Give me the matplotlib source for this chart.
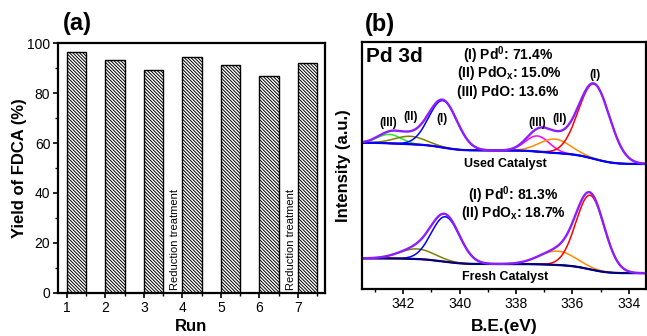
import numpy as np
import matplotlib
matplotlib.use("Agg")
import matplotlib.pyplot as plt
from matplotlib.ticker import MultipleLocator

plt.rcParams["font.family"] = ["Liberation Sans", "DejaVu Sans"]
plt.rcParams["mathtext.fontset"] = "custom"
plt.rcParams["mathtext.rm"] = "Liberation Sans:bold"
plt.rcParams["mathtext.it"] = "Liberation Sans:bold"
plt.rcParams["mathtext.bf"] = "Liberation Sans:bold"
plt.rcParams["hatch.linewidth"] = 0.7

# (a) recycling runs
runs = [1, 2, 3, 4, 5, 6, 7]
yields = [96.3, 93.1, 89.3, 94.4, 91.2, 86.9, 91.9]
treat_x = [3.8, 6.82]

# (b) Pd 3d fits: components listed as 3d3/2 ... 3d5/2
used_center = [342.49, 341.75, 340.59, 337.24, 336.62, 335.23]
used_sigma = [0.42, 0.55, 0.50, 0.42, 0.55, 0.55]
used_height = [3.6, 3.2, 19.0, 6.3, 5.6, 30.3]
used_colors = ["#22EE22", "#808000", "#0000FF", "#FF00FF", "#FF8C00", "#FF0000"]
used_bg = (59.2, 50.6)

fresh_center = [341.51, 340.50, 336.53, 335.37]
fresh_sigma = [0.62, 0.50, 0.65, 0.50]
fresh_height = [4.1, 18.2, 5.6, 30.0]
fresh_colors = ["#808000", "#0000FF", "#FF8C00", "#FF0000"]
fresh_bg = (12.4, 6.4)

ev = np.linspace(333.4, 343.46, 500)


def fit(center, sigma, height, bg_ends):
    comps = [h * np.exp(-(ev - c) ** 2 / (2 * s ** 2)) for c, s, h in zip(center, sigma, height)]
    total = np.sum(comps, axis=0)
    frac = np.cumsum(total) / np.sum(total)
    bg = bg_ends[1] + (bg_ends[0] - bg_ends[1]) * frac
    return bg, comps


fig = plt.figure(figsize=(6.47, 3.36), dpi=100)

ax1 = fig.add_axes([0.0896, 0.128, 0.4127, 0.744])
ax1.bar(runs, yields, width=0.5, align="edge", color="white", edgecolor="black",
        hatch="\\" * 10, linewidth=1.0)
for x in treat_x:
    ax1.text(x, 1.2, "Reduction treatment", rotation=90, ha="center", va="bottom", fontsize=8)
ax1.set_xlim(0.77, 7.7)
ax1.set_ylim(0, 100)
ax1.set_xticks(runs)
ax1.xaxis.set_minor_locator(MultipleLocator(0.5))
ax1.yaxis.set_major_locator(MultipleLocator(20))
ax1.yaxis.set_minor_locator(MultipleLocator(10))
ax1.set_xlabel("Run", fontsize=12, fontweight="bold", labelpad=3.5)
ax1.set_ylabel("Yield of FDCA (%)", fontsize=12, fontweight="bold", labelpad=0)
ax1.tick_params(which="major", length=3.5, width=1.2, labelsize=10, pad=2)
ax1.tick_params(which="minor", length=2, width=1)
for sp in ax1.spines.values():
    sp.set_linewidth(1.6)
fig.text(0.119, 0.929, "(a)", fontsize=17, fontweight="bold", ha="center", va="center")

ax2 = fig.add_axes([0.5595, 0.140, 0.4385, 0.735])
for center, sigma, height, colors, bg_ends, bg_color in [
        (used_center, used_sigma, used_height, used_colors, used_bg, "#0000FF"),
        (fresh_center, fresh_sigma, fresh_height, fresh_colors, fresh_bg, "#000080")]:
    bg, comps = fit(center, sigma, height, bg_ends)
    for comp, col in zip(comps, colors):
        ax2.plot(ev, bg + comp, color=col, lw=1.1)
    ax2.plot(ev, bg, color=bg_color, lw=1.6)
    ax2.plot(ev, bg + np.sum(comps, axis=0), color="#8C1EFF", lw=1.7)

lbl = dict(fontsize=8.5, fontweight="bold", ha="center", va="center")
ax2.text(342.53, 67.2, "(III)", **lbl)
ax2.text(341.72, 69.6, "(II)", **lbl)
ax2.text(340.61, 68.8, "(I)", **lbl)
ax2.text(337.23, 67.2, "(III)", **lbl)
ax2.text(336.45, 68.8, "(II)", **lbl)
ax2.text(335.20, 86.6, "(I)", **lbl)

tx = dict(transform=ax2.transAxes, ha="center", va="center", fontweight="bold")
ax2.text(0.115, 0.941, "Pd 3d", fontsize=15, **tx)
ax2.text(0.515, 0.947, r"(I) Pd$^{0}$: 71.4%", fontsize=10, **tx)
ax2.text(0.518, 0.874, r"(II) PdO$_{x}$: 15.0%", fontsize=10, **tx)
ax2.text(0.515, 0.798, "(III) PdO: 13.6%", fontsize=10, **tx)
ax2.text(0.504, 0.506, "Used Catalyst", fontsize=9, **tx)
ax2.text(0.532, 0.381, r"(I) Pd$^{0}$: 81.3%", fontsize=10, **tx)
ax2.text(0.532, 0.308, r"(II) PdO$_{x}$: 18.7%", fontsize=10, **tx)
ax2.text(0.504, 0.049, "Fresh Catalyst", fontsize=9, **tx)

ax2.set_xlim(343.46, 333.4)
ax2.set_ylim(0, 100)
ax2.xaxis.set_major_locator(MultipleLocator(2))
ax2.xaxis.set_minor_locator(MultipleLocator(1))
ax2.set_yticks([])
ax2.set_xlabel("B.E.(eV)", fontsize=12.5, fontweight="bold", labelpad=6)
ax2.set_ylabel("Intensity (a.u.)", fontsize=12, fontweight="bold", labelpad=8)
ax2.tick_params(which="major", length=3.5, width=1.2, labelsize=10, pad=2)
ax2.tick_params(which="minor", length=2, width=1)
for sp in ax2.spines.values():
    sp.set_linewidth(1.6)
fig.text(0.587, 0.926, "(b)", fontsize=17, fontweight="bold", ha="center", va="center")

fig.savefig("out.png", dpi=100)
